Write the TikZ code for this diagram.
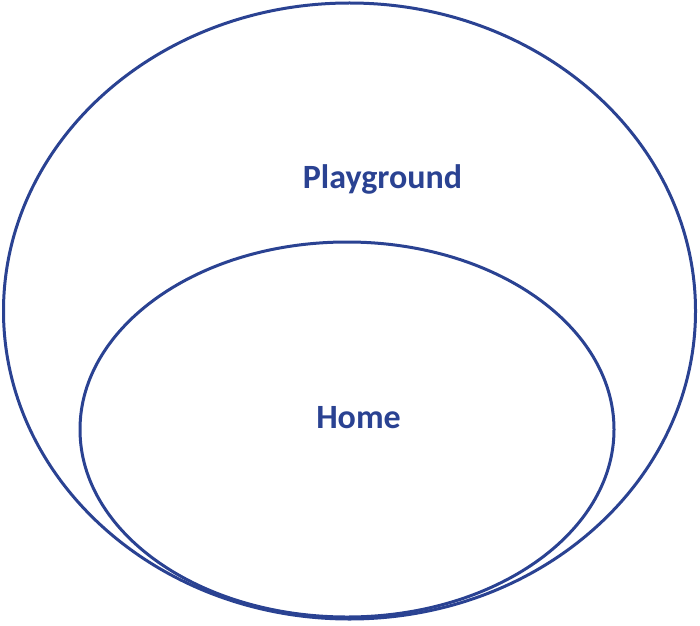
\documentclass[tikz,border=0pt]{standalone}
\usepackage{fontspec}
\usepackage{xcolor}
\usepackage{tikz}
\usetikzlibrary{shapes.geometric}
\setmainfont{Carlito}
\definecolor{setblue}{RGB}{42,66,146}

\begin{document}
\begin{tikzpicture}[
    x=1pt, y=1pt,
    zone/.style={ellipse, draw=setblue, line width=3pt, inner sep=0pt},
    setlabel/.style={anchor=base, text=setblue, font=\fontsize{34}{40}\selectfont\bfseries}
]
    \useasboundingbox (0,0) rectangle (700,625);
    \node[zone, minimum width=692, minimum height=616] (playzone) at (349.5,314) {};
    \node[zone, minimum width=534, minimum height=375] (homezone) at (347,195.5) {};
    \node[setlabel] (play) at (382.5,437) {Playground};
    \node[setlabel] (home) at (358.5,197) {Home};
\end{tikzpicture}
\end{document}
